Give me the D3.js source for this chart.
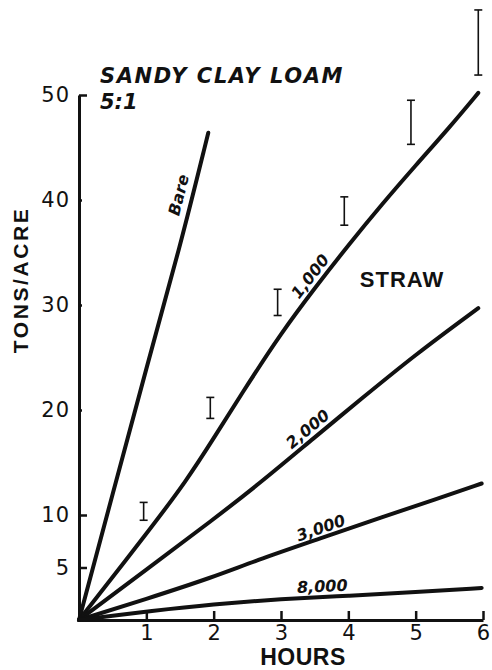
<!DOCTYPE html>
<html>
<head>
<meta charset="utf-8">
<script src="https://cdn.jsdelivr.net/npm/d3@7/dist/d3.min.js"></script>
<style>
	body { margin: 0; background: #fff; }
	svg { display: block; }
</style>
</head>
<body>
<div class="chart"></div>
<script>
// Soil loss (tons/acre) vs. time (hours), sandy clay loam, 5:1 slope
var bareHours = [0, 0.5, 1, 1.5, 1.92];
var bareTons = [0, 12, 24, 35.5, 46.4];

var straw1000Hours = [0, 1.05, 1.6, 2, 2.5, 3, 3.5, 4, 4.5, 5, 5.5, 5.93];
var straw1000Tons = [0, 8.6, 13.3, 17.3, 22.4, 27.3, 31.6, 35.7, 39.6, 43.3, 46.9, 50.2];

var straw2000Hours = [0, 1, 2, 2.7, 3.5, 4.2, 5, 5.93];
var straw2000Tons = [0, 4.8, 9.6, 13.1, 17.4, 21.1, 25.3, 29.7];

var straw3000Hours = [0, 1, 2, 2.6, 3.6, 4.5, 5.3, 5.98];
var straw3000Tons = [0, 2.0, 4.1, 5.6, 7.8, 9.8, 11.5, 13.0];

var straw8000Hours = [0, 0.5, 1, 2, 3, 4, 5, 5.98];
var straw8000Tons = [0, 0.4, 0.8, 1.5, 2.0, 2.3, 2.65, 3.05];

// measured ranges (I bars)
var rangeHours = [0.96, 1.95, 2.95, 3.94, 4.93, 5.93];
var rangeLow = [9.5, 19.2, 29.0, 37.6, 45.3, 51.9];
var rangeHigh = [11.2, 21.2, 31.5, 40.3, 49.5, 58.1];

var xTicks = [1, 2, 3, 4, 5, 6];
var yTicks = [5, 10, 20, 30, 40, 50];

var series = [
	{ name: "Bare", hours: bareHours, tons: bareTons },
	{ name: "1,000", hours: straw1000Hours, tons: straw1000Tons },
	{ name: "2,000", hours: straw2000Hours, tons: straw2000Tons },
	{ name: "3,000", hours: straw3000Hours, tons: straw3000Tons },
	{ name: "8,000", hours: straw8000Hours, tons: straw8000Tons }
];

// where each curve label sits: hour along the curve, offset above it (px)
var labelAt = { "Bare": [1.68, 14], "1,000": [3.56, 11], "2,000": [3.5, 11], "3,000": [3.64, 10], "8,000": [3.62, 11] };

var width = 492;
var height = 670;

var svg = d3.select(".chart")
	.append("svg")
	.attr("width", width)
	.attr("height", height);

var x = d3.scaleLinear().domain([0, 6]).range([79, 483]);
var y = d3.scaleLinear().domain([0, 50]).range([620, 95]);

var numFont = "'DejaVu Sans', sans-serif";
var boldFont = "'Liberation Sans', Arial, sans-serif";

// y axis
var yAxis = svg.append("g")
	.attr("transform", "translate(" + x(0) + ",0)")
	.call(d3.axisLeft(y).tickValues(yTicks).tickSize(-8).tickPadding(10).tickSizeOuter(0));
yAxis.select(".domain").attr("stroke", "#111").attr("stroke-width", 3);
yAxis.selectAll(".tick line")
	.attr("stroke", "#111")
	.attr("stroke-width", 2.5)
	.attr("x2", function(d) { return (d == 20 || d == 30 || d == 40) ? 3 : 8; });
yAxis.selectAll(".tick text")
	.attr("x", -9)
	.style("font-family", numFont)
	.style("font-size", "21px")
	.style("letter-spacing", "1px")
	.attr("fill", "#111");

// x axis
var xAxis = svg.append("g")
	.attr("transform", "translate(0," + y(0) + ")")
	.call(d3.axisBottom(x).tickValues(xTicks).tickFormat(d3.format("d")).tickSize(-9).tickPadding(5).tickSizeOuter(0));
xAxis.select(".domain").attr("stroke", "#111").attr("stroke-width", 3);
xAxis.selectAll(".tick line").attr("stroke", "#111").attr("stroke-width", 2.5);
xAxis.selectAll(".tick text")
	.style("font-family", numFont)
	.style("font-size", "21px")
	.attr("fill", "#111");

// axis titles
svg.append("text")
	.attr("x", 303)
	.attr("y", 665)
	.attr("text-anchor", "middle")
	.style("font-family", boldFont)
	.style("font-weight", "bold")
	.style("font-size", "23px")
	.style("letter-spacing", "0.5px")
	.attr("fill", "#111")
	.text("HOURS");

svg.append("text")
	.attr("transform", "translate(28,280) rotate(-90)")
	.attr("text-anchor", "middle")
	.style("font-family", boldFont)
	.style("font-weight", "bold")
	.style("font-size", "21px")
	.style("letter-spacing", "2.6px")
	.attr("fill", "#111")
	.text("TONS/ACRE");

// title
svg.append("text")
	.attr("x", 100)
	.attr("y", 83)
	.style("font-family", numFont)
	.style("font-weight", "bold")
	.style("font-style", "italic")
	.style("font-size", "21px")
	.style("letter-spacing", "1.6px")
	.attr("fill", "#111")
	.text("SANDY CLAY LOAM");

svg.append("text")
	.attr("x", 100)
	.attr("y", 109)
	.style("font-family", numFont)
	.style("font-weight", "bold")
	.style("font-style", "italic")
	.style("font-size", "21px")
	.attr("fill", "#111")
	.text("5:1");

svg.append("text")
	.attr("x", 402)
	.attr("y", 287)
	.attr("text-anchor", "middle")
	.style("font-family", boldFont)
	.style("font-weight", "bold")
	.style("font-size", "22px")
	.style("letter-spacing", "1px")
	.attr("fill", "#111")
	.text("STRAW");

// curves
var line = d3.line()
	.x(function(d) { return x(d[0]); })
	.y(function(d) { return y(d[1]); })
	.curve(d3.curveBasis);

svg.append("g")
	.selectAll("path")
	.data(series)
	.enter()
	.append("path")
	.attr("d", function(s) { return line(d3.zip(s.hours, s.tons)); })
	.attr("fill", "none")
	.attr("stroke", "#111")
	.attr("stroke-width", 4)
	.attr("stroke-linecap", "round");

// curve labels, rotated along the local slope
series.forEach(function(s) {
	var at = labelAt[s.name];
	var f = d3.scaleLinear().domain(s.hours).range(s.tons);
	var h = at[0];
	var x0 = x(h - 0.15), y0 = y(f(h - 0.15));
	var x1 = x(h + 0.15), y1 = y(f(h + 0.15));
	var angle = Math.atan2(y1 - y0, x1 - x0) * 180 / Math.PI;
	svg.append("text")
		.attr("transform", "translate(" + x(h) + "," + y(f(h)) + ") rotate(" + angle + ")")
		.attr("y", -at[1])
		.attr("dy", "0.36em")
		.attr("text-anchor", "middle")
		.style("font-family", numFont)
		.style("font-weight", "bold")
		.style("font-style", "italic")
		.style("font-size", "16px")
		.attr("fill", "#111")
		.text(s.name);
});

// I bars
var bars = svg.append("g")
	.selectAll("g")
	.data(d3.range(rangeHours.length))
	.enter()
	.append("g")
	.attr("stroke", "#111")
	.attr("stroke-width", 1.6);

bars.append("line")
	.attr("x1", function(i) { return x(rangeHours[i]); })
	.attr("x2", function(i) { return x(rangeHours[i]); })
	.attr("y1", function(i) { return y(rangeLow[i]); })
	.attr("y2", function(i) { return y(rangeHigh[i]); });

bars.append("line")
	.attr("x1", function(i) { return x(rangeHours[i]) - 4; })
	.attr("x2", function(i) { return x(rangeHours[i]) + 4; })
	.attr("y1", function(i) { return y(rangeLow[i]); })
	.attr("y2", function(i) { return y(rangeLow[i]); });

bars.append("line")
	.attr("x1", function(i) { return x(rangeHours[i]) - 4; })
	.attr("x2", function(i) { return x(rangeHours[i]) + 4; })
	.attr("y1", function(i) { return y(rangeHigh[i]); })
	.attr("y2", function(i) { return y(rangeHigh[i]); });
</script>
</body>
</html>
